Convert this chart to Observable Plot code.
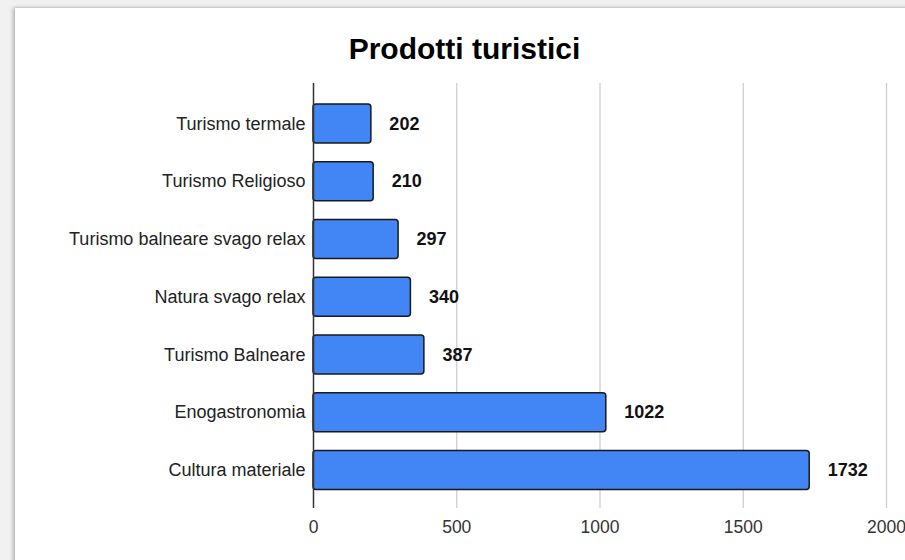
<!DOCTYPE html>
<html>
<head>
<meta charset="utf-8">
<script src="https://cdn.jsdelivr.net/npm/d3@7"></script>
<script src="https://cdn.jsdelivr.net/npm/@observablehq/plot@0.6"></script>
<style>
  html, body { margin: 0; padding: 0; }
  body { width: 905px; height: 560px; background: #f1f1f1; position: relative; overflow: hidden;
         font-family: "Liberation Sans", Arial, sans-serif; }
  #card { position: absolute; left: 15px; top: 8px; width: 920px; height: 580px; background: #fff;
          box-shadow: -2px 0 4px rgba(0,0,0,0.25), 0 -1px 2px rgba(0,0,0,0.08); }
  #title { position: absolute; left: 0; top: 31px; width: 929px; text-align: center;
           font-size: 30px; font-weight: bold; color: #000; line-height: 36px; }
  #chart { position: absolute; left: 0; top: 75px; }
</style>
</head>
<body>
<div id="card"></div>
<div id="title">Prodotti turistici</div>
<div id="chart"></div>
<script>
const categories = ["Turismo termale", "Turismo Religioso", "Turismo balneare svago relax", "Natura svago relax", "Turismo Balneare", "Enogastronomia", "Cultura materiale"];
const values = [202, 210, 297, 340, 387, 1022, 1732];
const xTicks = [0, 500, 1000, 1500, 2000];

const data = categories.map((c, i) => ({category: c, value: values[i]}));

const plot = Plot.plot({
  width: 905,
  height: 485,
  marginTop: 8,
  marginBottom: 52,
  marginLeft: 313,
  marginRight: 19,
  style: {background: "transparent", fontFamily: "'Liberation Sans', Arial, sans-serif", fontSize: "18px", color: "#222"},
  x: {domain: [0, 2000], ticks: xTicks, label: null},
  y: {domain: categories, paddingInner: 0.325, paddingOuter: 0.342, align: 0.53, round: false, label: null},
  marks: [
    Plot.ruleX(xTicks.filter(d => d > 0), {stroke: "#cccccc", strokeWidth: 1.2, strokeOpacity: 1}),
    Plot.barX(data, {x: "value", y: "category", fill: "#4285f4", stroke: "#1a1a1a", strokeWidth: 1.5, rx: 3}),
    Plot.ruleX([0], {stroke: "#333", strokeWidth: 1.5}),
    Plot.text(data, {x: "value", y: "category", text: d => String(d.value), dx: 18, textAnchor: "start",
                     fontWeight: "bold", fontSize: 18, fill: "#111"}),
    Plot.axisX({ticks: xTicks, tickSize: 0, tickPadding: 12, fontSize: 17.5, fill: "#333", label: null, tickFormat: d => String(d)}),
    Plot.axisY({tickSize: 0, tickPadding: 8, fontSize: 18, fill: "#222", label: null})
  ]
});
document.getElementById("chart").appendChild(plot);
</script>
</body>
</html>
